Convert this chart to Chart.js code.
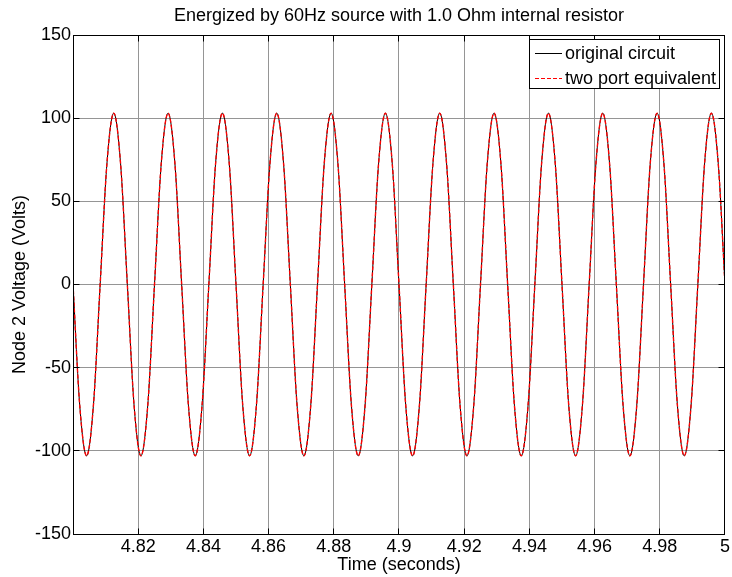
<!DOCTYPE html>
<html>
<head>
<meta charset="utf-8">
<script src="https://cdn.jsdelivr.net/npm/chart.js@4.4.1/dist/chart.umd.min.js"></script>
<style>
  html, body { margin: 0; padding: 0; background: #fff; }
  canvas { display: block; }
</style>
</head>
<body>
<canvas id="node2-chart" width="732" height="577"></canvas>
<script>
// time samples (s), 8 per 60Hz cycle
const times = [
  4.8, 4.80208, 4.80417, 4.80625, 4.80833, 4.81042, 4.8125, 4.81458,
  4.81667, 4.81875, 4.82083, 4.82292, 4.825, 4.82708, 4.82917, 4.83125,
  4.83333, 4.83542, 4.8375, 4.83958, 4.84167, 4.84375, 4.84583, 4.84792,
  4.85, 4.85208, 4.85417, 4.85625, 4.85833, 4.86042, 4.8625, 4.86458,
  4.86667, 4.86875, 4.87083, 4.87292, 4.875, 4.87708, 4.87917, 4.88125,
  4.88333, 4.88542, 4.8875, 4.88958, 4.89167, 4.89375, 4.89583, 4.89792,
  4.9, 4.90208, 4.90417, 4.90625, 4.90833, 4.91042, 4.9125, 4.91458,
  4.91667, 4.91875, 4.92083, 4.92292, 4.925, 4.92708, 4.92917, 4.93125,
  4.93333, 4.93542, 4.9375, 4.93958, 4.94167, 4.94375, 4.94583, 4.94792,
  4.95, 4.95208, 4.95417, 4.95625, 4.95833, 4.96042, 4.9625, 4.96458,
  4.96667, 4.96875, 4.97083, 4.97292, 4.975, 4.97708, 4.97917, 4.98125,
  4.98333, 4.98542, 4.9875, 4.98958, 4.99167, 4.99375, 4.99583, 4.99792,
  5.0
];

// node 2 voltage (V)
const originalVolts = [
  0, -73, -103, -73, 0, 73, 103, 73,
  0, -73, -103, -73, 0, 73, 103, 73,
  0, -73, -103, -73, 0, 73, 103, 73,
  0, -73, -103, -73, 0, 73, 103, 73,
  0, -73, -103, -73, 0, 73, 103, 73,
  0, -73, -103, -73, 0, 73, 103, 73,
  0, -73, -103, -73, 0, 73, 103, 73,
  0, -73, -103, -73, 0, 73, 103, 73,
  0, -73, -103, -73, 0, 73, 103, 73,
  0, -73, -103, -73, 0, 73, 103, 73,
  0, -73, -103, -73, 0, 73, 103, 73,
  0, -73, -103, -73, 0, 73, 103, 73,
  0
];
// two port model lies right on top of it
const twoPortVolts = originalVolts;

const seriesLabels = ['original circuit', 'two port equivalent'];

const FONT = "'Liberation Sans', Arial, Helvetica, sans-serif";
Chart.defaults.font.family = FONT;
Chart.defaults.font.size = 18;
Chart.defaults.color = '#000';

const toPoints = vals => times.map((t, i) => ({ x: t, y: vals[i] }));

const px = p => Math.round(p - 0.5) + 0.5;

// matlab style box + inward ticks
const axesBox = {
  id: 'axesBox',
  afterDatasetsDraw(chart) {
    const { ctx, chartArea: a, scales } = chart;
    const L = px(a.left), R = px(a.right), T = px(a.top), B = px(a.bottom);
    const len = 6;
    ctx.save();
    ctx.strokeStyle = '#000';
    ctx.lineWidth = 1;
    ctx.beginPath();
    scales.x.ticks.forEach(t => {
      const x = px(scales.x.getPixelForValue(t.value));
      ctx.moveTo(x, B); ctx.lineTo(x, B - len);
      ctx.moveTo(x, T); ctx.lineTo(x, T + len);
    });
    scales.y.ticks.forEach(t => {
      const y = px(scales.y.getPixelForValue(t.value));
      ctx.moveTo(L, y); ctx.lineTo(L + len, y);
      ctx.moveTo(R, y); ctx.lineTo(R - len, y);
    });
    ctx.stroke();
    ctx.strokeRect(L, T, R - L, B - T);
    ctx.restore();
  }
};

// legend box in the upper right corner
const legendBox = {
  id: 'legendBox',
  afterDraw(chart) {
    const { ctx, chartArea: a } = chart;
    const sets = chart.data.datasets;
    ctx.save();
    ctx.font = '18px ' + FONT;
    const textW = Math.max(...sets.map(d => ctx.measureText(d.label).width));
    const sample = 27, rowH = 25;
    const w = Math.round(6 + sample + 3 + textW + 3);
    const h = 49;
    const right = px(a.right - 5), top = px(a.top + 4);
    const left = right - w;
    ctx.fillStyle = '#fff';
    ctx.fillRect(left, top, w, h);
    ctx.strokeStyle = '#000';
    ctx.lineWidth = 1;
    ctx.strokeRect(left, top, w, h);
    ctx.textBaseline = 'middle';
    ctx.textAlign = 'left';
    sets.forEach((d, i) => {
      const y = px(top + 13.5 + i * rowH);
      ctx.strokeStyle = d.borderColor;
      ctx.setLineDash(d.borderDash || []);
      ctx.beginPath();
      ctx.moveTo(left + 5.5, y);
      ctx.lineTo(left + 5.5 + sample, y);
      ctx.stroke();
      ctx.setLineDash([]);
      ctx.fillStyle = '#000';
      ctx.fillText(d.label, left + 5.5 + sample + 3, y + 0.5);
    });
    ctx.restore();
  }
};

const ctx = document.getElementById('node2-chart');
const chart = new Chart(ctx, {
  type: 'line',
  data: {
    datasets: [{
      label: seriesLabels[0],
      data: toPoints(originalVolts),
      borderColor: '#000000',
      borderWidth: 1,
      pointRadius: 0,
      cubicInterpolationMode: 'monotone',
      order: 2
    }, {
      label: seriesLabels[1],
      data: toPoints(twoPortVolts),
      borderColor: '#ff0000',
      borderWidth: 1.4,
      borderDash: [4, 2],
      pointRadius: 0,
      cubicInterpolationMode: 'monotone',
      order: 1
    }]
  },
  options: {
    responsive: false,
    animation: false,
    events: [],
    layout: { padding: { left: 0, right: 5, top: 0, bottom: 0 } },
    plugins: {
      legend: { display: false },
      tooltip: { enabled: false },
      title: {
        display: true,
        fullSize: false,
        text: 'Energized by 60Hz source with 1.0 Ohm internal resistor',
        font: { size: 18, weight: 'normal' },
        color: '#000',
        padding: { top: 5.7, bottom: 7.7 }
      }
    },
    scales: {
      x: {
        type: 'linear',
        min: 4.8,
        max: 5,
        afterFit: s => { s.height = 43; },
        ticks: {
          stepSize: 0.02,
          autoSkip: false,
          maxRotation: 0,
          padding: 2,
          callback: v => Math.abs(v - 4.8) < 1e-6 ? '' : String(Math.round(v * 100) / 100)
        },
        grid: { color: '#959595', lineWidth: 1, drawTicks: false },
        border: { display: true, color: '#000' },
        title: {
          display: true,
          text: 'Time (seconds)',
          padding: { top: 0, bottom: 0.7 }
        }
      },
      y: {
        type: 'linear',
        min: -150,
        max: 150,
        afterFit: s => { s.width = 73; },
        ticks: { stepSize: 50, padding: 2 },
        grid: { color: '#959595', lineWidth: 1, drawTicks: false },
        border: { display: true, color: '#000' },
        title: {
          display: true,
          text: 'Node 2 Voltage (Volts)',
          padding: { top: 9.7, bottom: 0 }
        }
      }
    }
  },
  plugins: [axesBox, legendBox]
});
</script>
</body>
</html>
